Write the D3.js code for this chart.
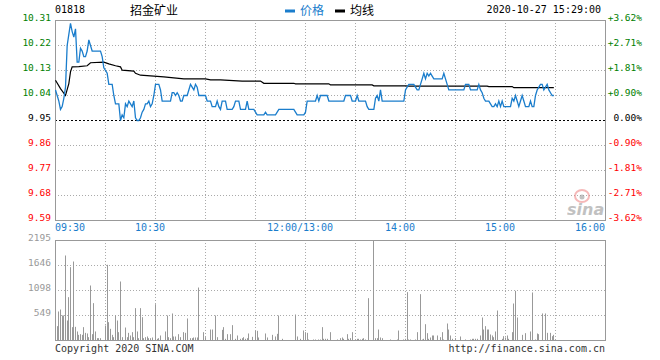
<!DOCTYPE html>
<html><head><meta charset="utf-8">
<script src="https://cdn.jsdelivr.net/npm/d3@7/dist/d3.min.js"></script>
<style>body{margin:0;background:#fff}svg{display:block}</style>
</head><body>
<svg id="c" width="660" height="360"></svg>
<script>
// ---- data ----
const stockCode = "01818";
const stockName = "招金矿业";
const dateTime = "2020-10-27 15:29:00";
const legendLabels = ["价格", "均线"];
const prevClose = 9.95;
const priceTicks = [10.31, 10.22, 10.13, 10.04, 9.95, 9.86, 9.77, 9.68, 9.59];
const priceTickLabels = ["10.31","10.22","10.13","10.04","9.95","9.86","9.77","9.68","9.59"];
const pctTickLabels = ["+3.62%","+2.71%","+1.81%","+0.90%","0.00%","-0.90%","-1.81%","-2.71%","-3.62%"];
const timeTickMinutes = [0, 60, 150, 210, 270, 330];
const timeTickLabels = ["09:30","10:30","12:00/13:00","14:00","15:00","16:00"];
const volTicks = [2195, 1646, 1098, 549];
// minute-by-minute price from 09:30 (minute 0) to 15:29 (minute 299)
const prices = [
10.06,10.04,10.02,9.99,10.00,10.03,10.07,10.22,10.26,10.30,
10.27,10.25,10.28,10.16,10.16,10.21,10.20,10.18,10.18,10.20,
10.24,10.22,10.20,10.20,10.20,10.20,10.20,10.20,10.18,10.14,
10.13,10.12,10.08,10.08,10.08,10.04,10.01,10.01,10.01,9.95,
9.97,9.96,10.01,10.00,10.02,10.01,10.00,10.02,9.96,9.95,
9.95,9.96,9.98,9.99,10.01,10.01,10.02,10.00,10.01,10.04,
10.08,10.08,10.08,10.06,10.02,10.02,10.02,10.02,10.02,10.02,
10.05,10.05,10.04,10.05,10.04,10.02,10.02,10.04,10.04,10.04,
10.06,10.08,10.07,10.06,10.08,10.07,10.04,10.04,10.04,10.04,
10.04,10.02,10.02,10.02,10.00,10.00,10.00,10.02,10.00,9.99,
10.02,10.02,10.02,9.99,9.99,9.99,9.99,10.00,10.02,10.02,
10.02,9.99,9.99,9.99,9.99,10.02,9.99,9.99,9.99,9.99,
9.98,9.97,9.97,9.97,9.97,9.97,9.98,9.97,9.97,9.97,
9.97,9.97,9.97,9.98,9.99,9.99,9.99,9.99,9.99,9.99,
9.99,9.99,9.99,9.99,9.98,9.97,9.97,9.97,9.97,9.97,
9.98,10.02,10.02,10.02,10.02,10.02,10.02,10.04,10.02,10.04,
10.04,10.04,10.04,10.04,10.02,10.02,10.02,10.02,10.02,10.02,
10.02,10.02,10.02,10.02,10.04,10.04,10.04,10.04,10.02,10.02,
10.02,10.04,10.02,10.02,10.02,10.02,10.02,10.00,9.99,9.99,
9.99,9.99,10.03,10.04,10.02,10.06,10.02,10.02,10.02,10.02,
10.02,10.02,10.02,10.02,10.02,10.02,10.02,10.02,10.02,10.02,
10.06,10.07,10.08,10.08,10.08,10.08,10.07,10.06,10.06,10.08,
10.10,10.12,10.10,10.12,10.11,10.12,10.11,10.10,10.10,10.10,
10.10,10.10,10.10,10.12,10.10,10.08,10.06,10.06,10.06,10.06,
10.06,10.06,10.06,10.06,10.06,10.06,10.08,10.08,10.08,10.06,
10.06,10.06,10.06,10.06,10.08,10.06,10.05,10.03,10.02,10.02,
10.02,10.01,10.00,10.00,10.01,10.00,10.02,10.00,10.02,10.00,
10.00,10.00,10.00,10.00,10.03,10.02,10.04,10.02,10.00,10.02,
10.04,10.02,10.00,10.00,10.00,10.02,10.00,10.00,10.04,10.06,
10.07,10.08,10.08,10.06,10.07,10.08,10.06,10.05,10.04,10.04
];
// average-price line (minute, value)
const avgMinutes = [0,3,6,8,9,10,14,19,21,29,32,36,39,40,47,48,51,59,65,77,90,93,99,112,123,125,143,144,164,165,190,191,210,212,259,260,274,275,299];
const avgValues  = [10.095,10.065,10.04,10.083,10.125,10.143,10.144,10.147,10.158,10.16,10.154,10.147,10.143,10.131,10.128,10.12,10.113,10.11,10.107,10.10,10.10,10.096,10.096,10.092,10.092,10.084,10.084,10.082,10.082,10.078,10.078,10.075,10.075,10.074,10.074,10.072,10.072,10.068,10.068];
// volume bars (minute, volume)
const volMinutes = [1,2,3,4,5,6,7,8,9,10,11,12,13,14,15,16,17,18,19,20,21,22,23,24,25,26,27,30,31,32,33,34,35,36,37,38,39,40,42,43,44,45,46,47,48,49,50,51,52,53,54,55,56,57,58,60,61,62,63,66,67,68,69,70,71,72,74,75,77,78,79,81,82,83,84,85,86,89,90,93,94,96,97,100,101,102,103,105,106,108,109,111,112,113,114,115,116,118,120,121,122,126,127,130,132,133,134,136,144,145,147,149,150,151,152,155,156,158,159,160,161,162,163,
165,169,171,172,173,175,176,177,178,181,182,183,184,185,186,188,191,192,193,194,195,196,201,205,206,209,210,211,212,213,216,217,219,220,221,222,223,224,225,226,227,229,231,232,233,235,236,237,238,240,243,246,249,250,251,252,253,255,256,257,258,259,260,261,262,263,264,265,268,269,270,271,272,274,275,276,277,280,282,285,286,288,289,290,292,294,295,297,298,299];
const volValues = [315,637,680,549,549,1866,439,951,1610,293,1734,300,198,124,139,124,293,168,154,73,1207,139,820,198,51,51,51,329,1661,402,256,124,73,549,439,183,1295,73,285,73,168,110,183,73,710,198,51,710,512,51,73,88,51,51,66,797,37,51,110,198,549,73,51,593,88,88,139,73,183,168,483,51,51,66,66,66,1163,183,73,241,241,549,73,234,293,37,139,139,337,37,110,37,51,73,37,51,154,80,212,212,66,154,66,124,88,146,549,37,571,88,37,220,183,168,22,22,22,22,22,293,37,37,37,
183,22,51,66,37,139,37,51,183,37,37,22,37,51,22,929,2195,51,51,241,66,51,22,22,219,22,37,1061,22,22,22,183,1017,22,37,358,161,37,66,110,110,110,73,183,22,373,241,110,37,51,88,22,22,37,37,37,37,110,505,241,315,241,241,132,110,73,198,658,37,95,66,110,37,183,812,1090,505,124,161,198,1054,22,154,139,593,593,168,168,95,124];

// ---- drawing ----
const svg = d3.select("#c");
const L = 55, R = 605, T = 20, B = 220, VT = 240, VB = 340;
const BLUE = "#1a7dcc", GREEN = "#008000", RED = "#ff0000", GRAY = "#999";
const mono = "'DejaVu Sans Mono', monospace";
const cjk = "'Noto Sans CJK SC', sans-serif";

const x = d3.scaleLinear().domain([0, 330]).range([L + 0.5, R + 0.5]);
const yP = d3.scaleLinear().domain([9.59, 10.31]).range([B + 0.5, T + 0.5]);
const yV = d3.scaleLinear().domain([0, 2195]).range([VB + 0.5, VT + 0.5]);

svg.append("rect").attr("width", 660).attr("height", 360).attr("fill", "#fff");

// header
svg.append("text").attr("x", 55).attr("y", 13).attr("font-family", mono).attr("font-size", 10).attr("fill", "#000").text(stockCode);
svg.append("text").attr("x", 130).attr("y", 14.5).attr("font-family", cjk).attr("font-size", 12).attr("fill", "#000").text(stockName);
svg.append("rect").attr("x", 285).attr("y", 9.5).attr("width", 10).attr("height", 3).attr("fill", BLUE);
svg.append("text").attr("x", 300).attr("y", 14.5).attr("font-family", cjk).attr("font-size", 12).attr("fill", BLUE).text(legendLabels[0]);
svg.append("rect").attr("x", 335).attr("y", 9.5).attr("width", 10).attr("height", 3).attr("fill", "#000");
svg.append("text").attr("x", 350).attr("y", 14.5).attr("font-family", cjk).attr("font-size", 12).attr("fill", "#000").text(legendLabels[1]);
svg.append("text").attr("x", 601).attr("y", 13).attr("text-anchor", "end").attr("font-family", mono).attr("font-size", 10).attr("fill", "#000").text(dateTime);

// grid - price
const gP = svg.append("g");
const vGridMin = d3.range(30, 330, 30);
gP.selectAll("line.v").data(vGridMin).join("line")
  .attr("x1", d => Math.round(x(d) - 0.5) + 0.5).attr("x2", d => Math.round(x(d) - 0.5) + 0.5)
  .attr("y1", T).attr("y2", B).attr("stroke", "#aaa").attr("stroke-dasharray", "1,2");
gP.selectAll("line.h").data(priceTicks.filter(v => v !== prevClose && v !== 10.31 && v !== 9.59)).join("line")
  .attr("x1", L).attr("x2", R).attr("y1", d => Math.round(yP(d) - 0.5) + 0.5).attr("y2", d => Math.round(yP(d) - 0.5) + 0.5)
  .attr("stroke", "#aaa").attr("stroke-dasharray", "1,2");
gP.append("line").attr("x1", L).attr("x2", R)
  .attr("y1", Math.round(yP(prevClose) - 0.5) + 0.5).attr("y2", Math.round(yP(prevClose) - 0.5) + 0.5)
  .attr("stroke", "#000").attr("stroke-dasharray", "2,2");

// sina watermark
const wm = svg.append("g").attr("opacity", 0.6);
wm.append("ellipse").attr("cx", 582).attr("cy", 196).attr("rx", 7).attr("ry", 6).attr("fill", "none").attr("stroke", "#f08a8a").attr("stroke-width", 2);
wm.append("circle").attr("cx", 582).attr("cy", 197).attr("r", 2.5).attr("fill", "#999");
wm.append("text").attr("x", 567).attr("y", 215).attr("font-family", "'DejaVu Sans', sans-serif").attr("font-weight", "bold").attr("font-style", "italic").attr("font-size", 16).attr("fill", "#999").text("sina");

// border price
svg.append("rect").attr("x", L + 0.5).attr("y", T + 0.5).attr("width", R - L).attr("height", B - T).attr("fill", "none").attr("stroke", GRAY);

// lines
const avgLine = d3.line().x((d, i) => x(avgMinutes[i])).y(d => yP(d));
svg.append("path").attr("d", avgLine(avgValues)).attr("fill", "none").attr("stroke", "#000").attr("stroke-width", 1.2);
const priceLine = d3.line().x((d, i) => x(i)).y(d => yP(d));
svg.append("path").attr("d", priceLine(prices)).attr("fill", "none").attr("stroke", BLUE).attr("stroke-width", 1.3);

// price axis labels
const colorFor = v => v > prevClose ? GREEN : (v < prevClose ? RED : "#000");
svg.append("g").selectAll("text").data(priceTicks).join("text")
  .attr("x", 51).attr("y", d => yP(d) + 0.5).attr("text-anchor", "end")
  .attr("font-family", mono).attr("font-size", 9.5).attr("fill", colorFor).text((d, i) => priceTickLabels[i]);
svg.append("g").selectAll("text").data(priceTicks).join("text")
  .attr("x", 642).attr("y", d => yP(d) + 0.5).attr("text-anchor", "end")
  .attr("font-family", mono).attr("font-size", 9.5).attr("fill", colorFor).text((d, i) => pctTickLabels[i]);

// time labels
svg.append("g").selectAll("text").data(timeTickMinutes).join("text")
  .attr("x", (d, i) => i === 0 ? L : (i === timeTickMinutes.length - 1 ? R : x(d) - 5.5))
  .attr("y", 231)
  .attr("text-anchor", (d, i) => i === 0 ? "start" : (i === timeTickMinutes.length - 1 ? "end" : "middle"))
  .attr("font-family", mono).attr("font-size", 10).attr("fill", BLUE).text((d, i) => timeTickLabels[i]);

// volume grid
const gV = svg.append("g");
gV.selectAll("line.v").data(vGridMin).join("line")
  .attr("x1", d => Math.round(x(d) - 0.5) + 0.5).attr("x2", d => Math.round(x(d) - 0.5) + 0.5)
  .attr("y1", VT).attr("y2", VB).attr("stroke", "#aaa").attr("stroke-dasharray", "1,2");
gV.selectAll("line.h").data(volTicks.slice(1)).join("line")
  .attr("x1", L).attr("x2", R).attr("y1", d => Math.round(yV(d) - 0.5) + 0.5).attr("y2", d => Math.round(yV(d) - 0.5) + 0.5)
  .attr("stroke", "#aaa").attr("stroke-dasharray", "1,2");
svg.append("rect").attr("x", L + 0.5).attr("y", VT + 0.5).attr("width", R - L).attr("height", VB - VT).attr("fill", "none").attr("stroke", GRAY);

// volume bars
svg.append("g").selectAll("line").data(volValues).join("line")
  .attr("x1", (d, i) => Math.floor(x(volMinutes[i])) + 0.5).attr("x2", (d, i) => Math.floor(x(volMinutes[i])) + 0.5)
  .attr("y1", yV(0)).attr("y2", d => yV(d)).attr("stroke", "#999").attr("stroke-width", 1);

svg.append("g").selectAll("text").data(volTicks).join("text")
  .attr("x", 51).attr("y", d => yV(d) + 0.5).attr("text-anchor", "end")
  .attr("font-family", mono).attr("font-size", 9.5).attr("fill", GRAY).text(d => d);

// footer
svg.append("text").attr("x", 55).attr("y", 352).attr("font-family", mono).attr("font-size", 10).attr("fill", "#333").text("Copyright 2020 SINA.COM");
svg.append("text").attr("x", 605).attr("y", 352).attr("text-anchor", "end").attr("font-family", mono).attr("font-size", 10).attr("fill", "#333").text("http://finance.sina.com.cn");
</script>
</body></html>
